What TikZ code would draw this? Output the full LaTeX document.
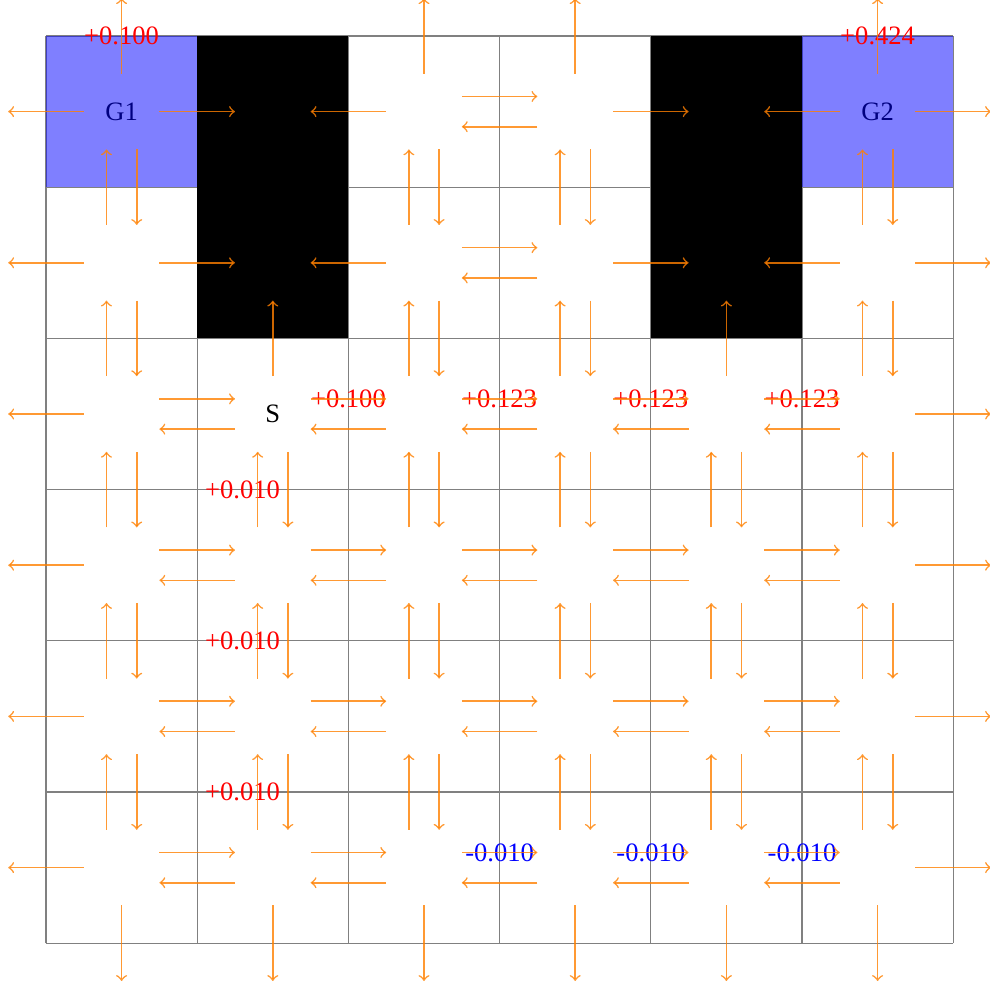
\documentclass[tikz,border=0pt]{standalone}
\usepackage{fontspec}
\setmainfont{Liberation Serif}
\tikzset{
  gridline/.style={draw=gray, line width=0.4pt},
  wall/.style={fill=black},
  goal/.style={fill=blue, fill opacity=0.5},
  celltext/.style={font=\fontsize{10}{12}\selectfont, inner sep=0pt},
  poslabel/.style={text=red, font=\fontsize{10}{12}\selectfont, inner sep=0pt},
  neglabel/.style={text=blue, font=\fontsize{10}{12}\selectfont, inner sep=0pt},
  movearrow/.style={->, draw=orange, draw opacity=0.8, line width=0.6pt}
}
\begin{document}
\begin{tikzpicture}[x=2cm,y=2cm]
\useasboundingbox (-0.3042,-0.3042) rectangle (6.2434,6.2381);
% cell texts (under the goal fill)
\node[celltext] (G1) at (0.5,5.5) {G1};
\node[celltext] (G2) at (5.5,5.5) {G2};
\node[celltext] (S) at (1.5,3.5) {S};
% grid
\foreach \k in {0,...,6}{
  \draw[gridline] (\k,0) -- (\k,6);
  \draw[gridline] (0,\k) -- (6,\k);
}
% obstacles
\fill[wall] (1,4) rectangle (2,6);
\fill[wall] (4,4) rectangle (5,6);
% goals
\fill[goal] (0,5) rectangle (1,6);
\fill[goal] (5,5) rectangle (6,6);
% value labels
\node[poslabel] (l1) at (0.5,6.0) {+0.100};
\node[poslabel] (l2) at (5.5,6.0) {+0.424};
\node[poslabel] (l3) at (2,3.6) {+0.100};
\node[poslabel] (l4) at (3,3.6) {+0.123};
\node[poslabel] (l5) at (4,3.6) {+0.123};
\node[poslabel] (l6) at (5,3.6) {+0.123};
\node[poslabel] (l7) at (1.3,3.0) {+0.010};
\node[poslabel] (l8) at (1.3,2.0) {+0.010};
\node[poslabel] (l9) at (1.3,1.0) {+0.010};
\node[neglabel] (n1) at (3,0.6) {-0.010};
\node[neglabel] (n2) at (4,0.6) {-0.010};
\node[neglabel] (n3) at (5,0.6) {-0.010};
% move arrows
\foreach \c in {0,...,5}{
  \foreach \r in {0,...,5}{
    \pgfmathtruncatemacro\self{((\c==1)||(\c==4))&&(\r<=1) ? 0 : 1}
    \ifnum\self=1
      \foreach \dx/\dy in {1/0,-1/0,0/1,0/-1}{
        \pgfmathtruncatemacro\nc{\c+(\dx)}
        \pgfmathtruncatemacro\nr{\r-(\dy)}
        \pgfmathtruncatemacro\inside{(\nc>=0)&&(\nc<=5)&&(\nr>=0)&&(\nr<=5) ? 1 : 0}
        \pgfmathtruncatemacro\blocked{((\nc==1)||(\nc==4))&&(\nr<=1) ? 1 : 0}
        \pgfmathsetmacro\o{(\inside==1)&&(\blocked==0) ? 0.1 : 0}
        \draw[movearrow]
          ({\c+0.5+0.25*(\dx)-\o*(\dy)},{5.5-\r+0.25*(\dy)+\o*(\dx)}) --
          ({\c+0.5+0.75*(\dx)-\o*(\dy)},{5.5-\r+0.75*(\dy)+\o*(\dx)});
      }
    \fi
  }
}
\end{tikzpicture}
\end{document}
